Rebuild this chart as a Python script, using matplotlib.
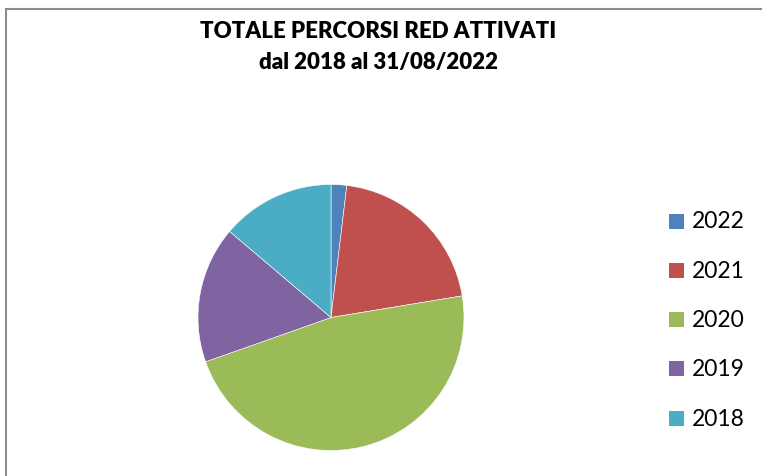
import matplotlib
matplotlib.use("Agg")
from matplotlib import pyplot as plt
from matplotlib.patches import Rectangle
from matplotlib.lines import Line2D

plt.rcParams['font.family'] = ['Lato', 'DejaVu Sans']

# quota percorsi RED attivati per anno (%)
years = ['2022', '2021', '2020', '2019', '2018']
shares = [1.9, 20.5, 47.2, 16.6, 13.8]
colors = ['#4F81BD', '#C0504D', '#9BBB59', '#8064A2', '#4BACC6']

W, H = 762, 477
fig = plt.figure(figsize=(W / 100, H / 100), dpi=100)

# cornice del grafico (solo bordo sinistro e superiore)
fig.add_artist(Line2D([5.5 / W, 5.5 / W], [0, 1 - 9.5 / H], color='#8c8c8c', lw=1.5))
fig.add_artist(Line2D([5.5 / W, 1], [1 - 9.5 / H, 1 - 9.5 / H], color='#8c8c8c', lw=1.5))

cx, cy, r = 331, 318.5, 133
ax = fig.add_axes([(cx - r) / W, (H - cy - r) / H, 2 * r / W, 2 * r / H])
ax.pie(shares, colors=colors, startangle=90, counterclock=False, radius=1,
       wedgeprops=dict(edgecolor='white', linewidth=0.4))
ax.set_xlim(-1.0, 1.0)
ax.set_ylim(-1.0, 1.0)
ax.axis('off')

fig.text(378.5 / W, 1 - 31 / H, 'TOTALE PERCORSI RED ATTIVATI', ha='center', va='center',
         fontsize=16, fontweight='heavy')
fig.text(378.5 / W, 1 - 62 / H, 'dal 2018 al 31/08/2022', ha='center', va='center',
         fontsize=16, fontweight='heavy')

# legenda
for i, (y, c) in enumerate(zip(years, colors)):
    yc = 222 + i * 49.3
    fig.add_artist(Rectangle((669 / W, 1 - (yc + 7.5) / H), 15 / W, 15 / H,
                             facecolor=c, edgecolor='none', transform=fig.transFigure))
    fig.text(692 / W, 1 - yc / H, y, ha='left', va='center', fontsize=16.5)

fig.savefig('out.png', dpi=100)
